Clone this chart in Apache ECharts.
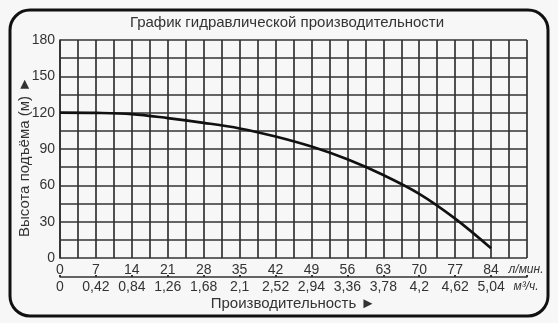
<!DOCTYPE html>
<html>
<head>
<meta charset="utf-8">
<script src="https://cdn.jsdelivr.net/npm/echarts@6/dist/echarts.min.js"></script>
<style>
html,body{margin:0;padding:0;background:#f7f7f7;}
#c{width:558px;height:323px;}
</style>
</head>
<body>
<div id="c"></div>
<script>
// Data
const flowLpm = [0, 7, 14, 21, 28, 35, 42, 49, 56, 63, 70, 77, 84];
const headM = [120, 119.8, 118.8, 115.5, 111.6, 107, 100.3, 92, 81.5, 68.5, 53, 32.5, 8];
const flowM3hLabels = ['0', '0,42', '0,84', '1,26', '1,68', '2,1', '2,52', '2,94', '3,36', '3,78', '4,2', '4,62', '5,04'];
const yTickLabels = [0, 30, 60, 90, 120, 150, 180];
const titleText = 'График гидравлической производительности';
const yName = 'Высота подъёма (м) ►';
const xName = 'Производительность ►';

const FONT = '"Liberation Sans", Arial, sans-serif';
const chart = echarts.init(document.getElementById('c'), null, {renderer: 'canvas'});
const gridColor = '#333';

chart.setOption({
  backgroundColor: '#f7f7f7',
  animation: false,
  grid: {left: 60, top: 40, right: 31, bottom: 65, containLabel: false},
  xAxis: [
    {
      type: 'value', min: 0, max: 91, interval: 3.5, position: 'bottom',
      axisLine: {show: false},
      axisTick: {show: false},
      splitLine: {show: true, lineStyle: {color: gridColor, width: 1.7}},
      axisLabel: {
        margin: 5, fontSize: 14, color: '#333', fontFamily: FONT,
        formatter: function (v) {
          const i = flowLpm.indexOf(Math.round(v * 10) / 10);
          return i >= 0 ? String(flowLpm[i]) : '';
        }
      }
    },
    {
      type: 'value', min: 0, max: 91, interval: 7, position: 'bottom', offset: 19,
      axisLine: {show: true, lineStyle: {color: '#333', width: 1.5}},
      axisTick: {show: true, inside: true, length: 2, lineStyle: {color: '#333', width: 2}},
      splitLine: {show: false},
      axisLabel: {
        margin: 3, fontSize: 14, color: '#333', fontFamily: FONT,
        formatter: function (v) {
          const i = flowLpm.indexOf(Math.round(v));
          return i >= 0 ? flowM3hLabels[i] : '';
        }
      }
    }
  ],
  yAxis: {
    type: 'value', min: 0, max: 180, interval: 15,
    axisLine: {show: true, lineStyle: {color: gridColor, width: 1.7}},
    axisTick: {show: false},
    splitLine: {show: true, lineStyle: {color: gridColor, width: 1.7}},
    axisLabel: {
      margin: 5, fontSize: 14, color: '#333', fontFamily: FONT,
      formatter: function (v) {
        return yTickLabels.indexOf(v) >= 0 ? String(v) : '';
      }
    }
  },
  series: [{
    type: 'line',
    xAxisIndex: 0,
    data: flowLpm.map((x, i) => [x, headM[i]]),
    smooth: 0.35,
    symbol: 'none',
    lineStyle: {color: '#111', width: 2.6},
    z: 5
  }],
  graphic: [
    {
      type: 'rect', z: -1, silent: true,
      shape: {x: 10, y: 10, width: 538, height: 306, r: 20},
      style: {fill: 'none', stroke: '#111', lineWidth: 3}
    },
    {
      type: 'text', x: 287, y: 23,
      style: {text: titleText, font: '15px ' + FONT, fill: '#333', align: 'center', verticalAlign: 'middle', textAlign: 'center', textVerticalAlign: 'middle'}
    },
    {
      type: 'text', x: 25, y: 157, rotation: Math.PI / 2,
      style: {text: yName, font: '15px ' + FONT, fill: '#333', align: 'center', verticalAlign: 'middle', textAlign: 'center', textVerticalAlign: 'middle'}
    },
    {
      type: 'text', x: 293, y: 304,
      style: {text: xName, font: '15px ' + FONT, fill: '#333', align: 'center', verticalAlign: 'middle', textAlign: 'center', textVerticalAlign: 'middle'}
    },
    {
      type: 'text', x: 526, y: 270,
      style: {text: 'л/мин.', font: 'italic 12px ' + FONT, fill: '#333', align: 'center', verticalAlign: 'middle', textAlign: 'center', textVerticalAlign: 'middle'}
    },
    {
      type: 'text', x: 526, y: 287,
      style: {text: 'м³/ч.', font: 'italic 12px ' + FONT, fill: '#333', align: 'center', verticalAlign: 'middle', textAlign: 'center', textVerticalAlign: 'middle'}
    }
  ]
});
</script>
</body>
</html>
